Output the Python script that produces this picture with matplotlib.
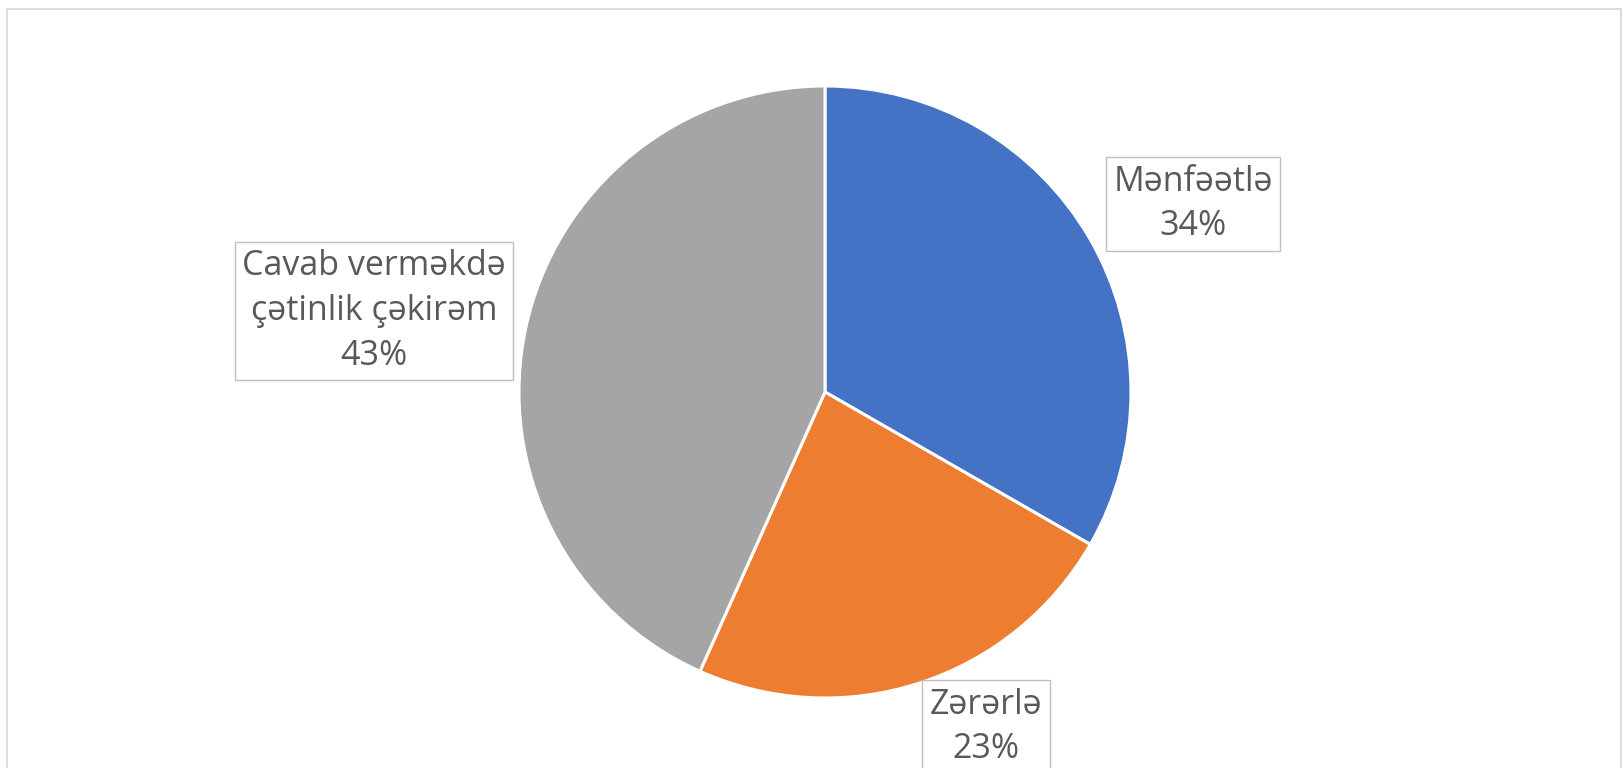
import matplotlib
matplotlib.use("Agg")
import matplotlib.pyplot as plt
from matplotlib.patches import Rectangle

categories = ["Mənfəətlə", "Zərərlə", "Cavab verməkdə\nçətinlik çəkirəm"]
values = [33.3, 23.4, 43.3]
pct_labels = ["34%", "23%", "43%"]
colors = ["#4472C4", "#ED7D31", "#A5A5A5"]

W, H = 1623, 768
fig = plt.figure(figsize=(W / 100, H / 100), dpi=100)
fig.patch.set_facecolor("white")

# chart frame
fig.patches.append(Rectangle((7 / W, -0.05), (1621 - 7) / W, (H - 9) / H + 0.05,
                             transform=fig.transFigure, fill=False,
                             edgecolor="#D9D9D9", linewidth=1.3))

cx, cy, r = 825, 392, 306
ax = fig.add_axes([(cx - r) / W, (H - cy - r) / H, 2 * r / W, 2 * r / H])
ax.pie(values, colors=colors, startangle=90, counterclock=False, radius=1,
       wedgeprops=dict(edgecolor="white", linewidth=2.2))
ax.set_xlim(-1, 1)
ax.set_ylim(-1, 1)
ax.set_aspect("equal")
ax.axis("off")

def px(x, y):
    return (x - cx) / r, (cy - y) / r

label_pos = [px(1193, 204), px(986, 727), px(374, 311)]
for cat, pct, (lx, ly) in zip(categories, pct_labels, label_pos):
    ax.text(lx, ly, f"{cat}\n{pct}", ha="center", va="center",
            fontsize=24.5, color="#595959", family=["Open Sans", "DejaVu Sans"],
            linespacing=1.42, clip_on=False,
            bbox=dict(boxstyle="square,pad=0.22", facecolor="white",
                      edgecolor="#BFBFBF", linewidth=1.0))

fig.savefig("out.png", dpi=100)
